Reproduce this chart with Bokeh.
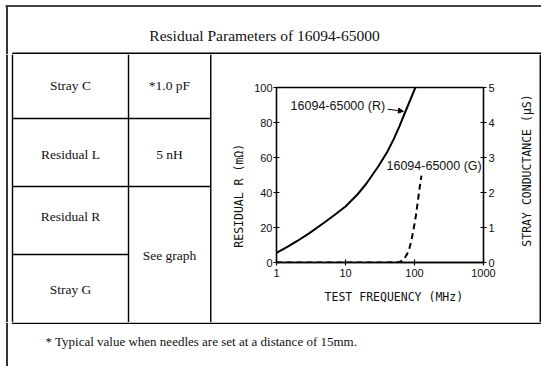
import math
from bokeh.plotting import figure
from bokeh.layouts import column, row
from bokeh.models import (Range1d, LinearAxis, FixedTicker, PrintfTickFormatter,
                          Label, Arrow, NormalHead)
from bokeh.core.properties import value
from bokeh.embed import file_html
from bokeh.resources import INLINE

# ---------------- data ----------------
freq_r = [1, 1.5, 2, 3, 5, 7, 10, 15, 20, 30, 40, 50, 60, 70, 85, 103]
res_r = [5.5, 9.4, 12.3, 16.8, 23, 27.3, 32, 39, 45, 55, 63, 70.5, 77.5, 84, 92, 100]
freq_g = [1, 10, 40, 60, 66, 72, 78, 83, 90, 98, 105, 112, 120, 126]
cond_g = [0, 0, 0, 0.01, 0.05, 0.13, 0.24, 0.35, 0.62, 1.0, 1.35, 1.76, 2.2, 2.48]
x_ticks = [1, 10, 100, 1000]
r_ticks = [0, 20, 40, 60, 80, 100]
g_ticks = [0, 1, 2, 3, 4, 5]

title_text = "Residual Parameters of 16094-65000"
row_names = ["Stray C", "Residual L", "Residual R", "Stray G"]
row_values = ["*1.0 pF", "5 nH", "See graph"]
footnote = "* Typical value when needles are set at a distance of 15mm."
label_r = "16094-65000 (R)"
label_g = "16094-65000 (G)"
x_label = "TEST FREQUENCY (MHz)"
r_label = "RESIDUAL R (m\u03a9)"
g_label = "STRAY CONDUCTANCE (\u03bcS)"

# ---------------- style ----------------
W, H = 541, 366
SERIF = "Liberation Serif"
SANS = "Liberation Sans"
MONO = "DejaVu Sans Mono"
NB = "\u00a0"
INK = "#111111"
LW = 1.4

# page layout (pixels)
TOP_H = 54          # title band
MID_H = 268         # table body band (54..322)
BOT_H = H - TOP_H - MID_H
TAB_W = 212         # left two table columns band
LAB_W = 29          # right label band
CH_W = W - TAB_W - LAB_W
X_OUT = 6.5         # outer page frame left line
Y_OUT = 5.5         # outer page frame top line
T_L, C1, C2, T_R = 12, 128, 210.25, 539.75
T_TOP = 52.75


def deco(w, h):
    f = figure(width=w, height=h, x_range=Range1d(0, w), y_range=Range1d(h, 0),
               output_backend="svg", toolbar_location=None,
               x_axis_location=None, y_axis_location=None,
               min_border=0, outline_line_color=None)
    f.frame_align = False
    f.grid.visible = False
    f.background_fill_color = "white"
    f.border_fill_color = "white"
    return f


def seg(f, x0, y0, x1, y1, w=LW, color="black"):
    f.segment(x0=[x0], y0=[y0], x1=[x1], y1=[y1], line_color=color, line_width=w)


def txt(f, x, y, s, size="13px", align="center", font=SERIF, angle=0.0):
    f.text(x=[x], y=[y], text=[s], text_font=value(font),
           text_font_size=value(size), text_align=align,
           text_baseline="middle", text_color=INK, angle=angle)


# ---- top band: outer frame, title, table top line ----
top = deco(W, TOP_H)
seg(top, 5, Y_OUT, W, Y_OUT, w=2, color="#444444")
seg(top, X_OUT, 5, X_OUT, TOP_H, w=2, color="#333333")
txt(top, 264, 35, title_text, size="15.5px")
seg(top, T_L, T_TOP, W, T_TOP)
for xx in (T_L, C1, C2, T_R):
    seg(top, xx, T_TOP, xx, TOP_H)

# ---- table band ----
tab = deco(TAB_W, MID_H)
seg(tab, X_OUT, 0, X_OUT, MID_H, w=2, color="#333333")
for xx in (T_L, C1, C2):
    seg(tab, xx, 0, xx, MID_H)
row_lines = [118, 186, 254]
seg(tab, T_L, row_lines[0] - TOP_H, C2, row_lines[0] - TOP_H)
seg(tab, T_L, row_lines[1] - TOP_H, C2, row_lines[1] - TOP_H)
seg(tab, T_L, row_lines[2] - TOP_H, C1, row_lines[2] - TOP_H)
name_y = [85, 154, 216, 289]
for s, yy in zip(row_names, name_y):
    txt(tab, 70, yy - TOP_H, s, size="13.5px")
val_y = [85, 154, 255]
for s, yy in zip(row_values, val_y):
    txt(tab, 169, yy - TOP_H, s, size="13.5px")

# ---- chart ----
p = figure(width=CH_W, height=MID_H, x_axis_type="log",
           x_range=Range1d(1, 1000), y_range=Range1d(0, 100),
           output_backend="svg", toolbar_location=None,
           min_border_left=64, min_border_right=29,
           min_border_top=33, min_border_bottom=60)
p.frame_align = False
p.extra_y_ranges = {"g": Range1d(0, 5)}
p.grid.visible = False
p.outline_line_color = "black"
p.outline_line_width = 1.3
p.background_fill_color = "white"
p.border_fill_color = "white"


def style_axis(ax, label, standoff, lab_standoff):
    ax.axis_label = label
    ax.axis_label_text_font = MONO
    ax.axis_label_text_font_size = "11.5px"
    ax.axis_label_text_font_style = "normal"
    ax.axis_label_text_color = INK
    ax.axis_label_standoff = standoff
    ax.major_label_text_font = SANS
    ax.major_label_text_font_size = "11px"
    ax.major_label_text_color = INK
    ax.major_label_standoff = lab_standoff
    ax.major_tick_in = 3
    ax.major_tick_out = 3
    ax.minor_tick_line_color = None
    ax.axis_line_color = "black"
    ax.axis_line_width = 1.3
    ax.major_tick_line_width = 1.2


xa = p.xaxis[0]
xa.ticker = FixedTicker(ticks=x_ticks)
xa.formatter = PrintfTickFormatter(format="%d")
style_axis(xa, NB * 4 + x_label, 10, 3)

ya = p.yaxis[0]
ya.ticker = FixedTicker(ticks=r_ticks)
style_axis(ya, r_label + NB * 6, 5, 1)

ga = LinearAxis(y_range_name="g")
ga.ticker = FixedTicker(ticks=g_ticks)
style_axis(ga, None, 0, 2)
p.add_layout(ga, "right")

p.line(freq_r, res_r, line_color="black", line_width=2)
p.line(freq_g, cond_g, y_range_name="g", line_color="black",
       line_width=2, line_dash="6 4")

p.add_layout(Label(x=1.6, y=89.5, text=label_r, text_font=SANS,
                   text_font_size="12.5px", text_baseline="middle",
                   text_align="left", text_color=INK))
p.add_layout(Label(x=39.3, y=55.3, text=label_g, text_font=SANS,
                   text_font_size="12.5px", text_baseline="middle",
                   text_align="left", text_color=INK))
p.add_layout(Arrow(end=NormalHead(size=5, fill_color="black", line_color="black"),
                   x_start=41, y_start=87.6, x_end=69, y_end=86.4,
                   line_width=1, line_color="black"))

# ---- right label band (right axis title + table right edge) ----
lab = deco(LAB_W, MID_H)
txt(lab, 526 - (W - LAB_W), 170 - TOP_H, g_label, size="11.5px", font=MONO,
    angle=math.pi / 2)
seg(lab, T_R - (W - LAB_W), 0, T_R - (W - LAB_W), MID_H)

# ---- bottom band: table bottom line, footnote ----
bot = deco(W, BOT_H)
seg(bot, T_L - 0.7, 0.75, T_R + 0.7, 0.75)
seg(bot, X_OUT, 0, X_OUT, BOT_H, w=2, color="#333333")
txt(bot, 45, 341 - TOP_H - MID_H, footnote, size="13px", align="left")

page = column(top, row(tab, p, lab), bot)
open("out.html", "w").write(file_html(page, INLINE))
